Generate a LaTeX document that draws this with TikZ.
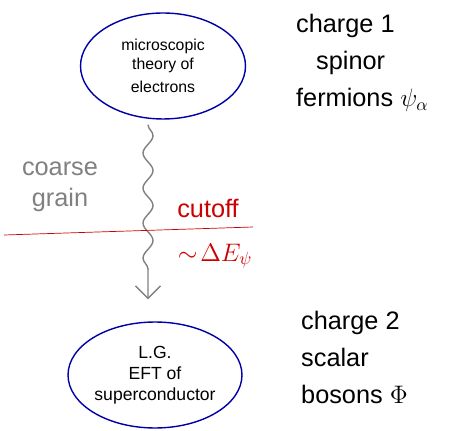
\documentclass[tikz,border=0pt]{standalone}
\usepackage{fontspec}
\setmainfont{Liberation Sans}
\usetikzlibrary{arrows.meta, shapes.geometric, positioning, decorations.pathmorphing}

\begin{document}
\begin{tikzpicture}[
    x=0.02cm, y=-0.02cm,
    blob/.style={ellipse, draw=blue!65!black, thick, minimum width=3.3cm, minimum height=2.12cm, align=center, inner sep=0pt},
    note/.style={anchor=north west, align=left, font=\Large},
    wavy/.style={decorate, decoration={snake, amplitude=1mm, segment length=7mm, post length=6mm}, gray, thick, -{Straight Barb[length=2.5mm, width=5mm]}},
    cut/.style={red!80!black, font=\Large}
]
\useasboundingbox (0,0) rectangle (472,431);

% Theories
\node[blob, font=\small] (micro) at (163,66) {microscopic\\theory of\\[2pt]electrons};
\node[blob, minimum width=3.48cm] (lg) at (155,375) {L.G.\\EFT of\\superconductor};

% Degrees of freedom
\node[note] (ferm) at (290,8) {charge 1\\[3pt]\hspace{0.4cm}spinor\\[3pt]fermions $\psi_\alpha$};
\node[note] (bos) at (295,305) {charge 2\\[3pt]scalar\\[3pt]bosons $\Phi$};

% Flow
\draw[wavy] ([xshift=-0.3cm, yshift=-0.1cm]micro.south) -- ([xshift=-0.14cm, yshift=0.44cm]lg.north);
\node[gray, font=\Large, align=center] (coarse) at (60,187) {coarse\\grain};

% Cutoff
\coordinate (cutL) at (4,235);
\coordinate (cutR) at (253,227);
\draw[red!80!black] (cutL) -- (cutR);
\node[cut] (cutoff) at (208,208) {cutoff};
\node[cut] (scale) at (215,256) {$\sim\!\Delta E_\psi$};

\end{tikzpicture}
\end{document}
